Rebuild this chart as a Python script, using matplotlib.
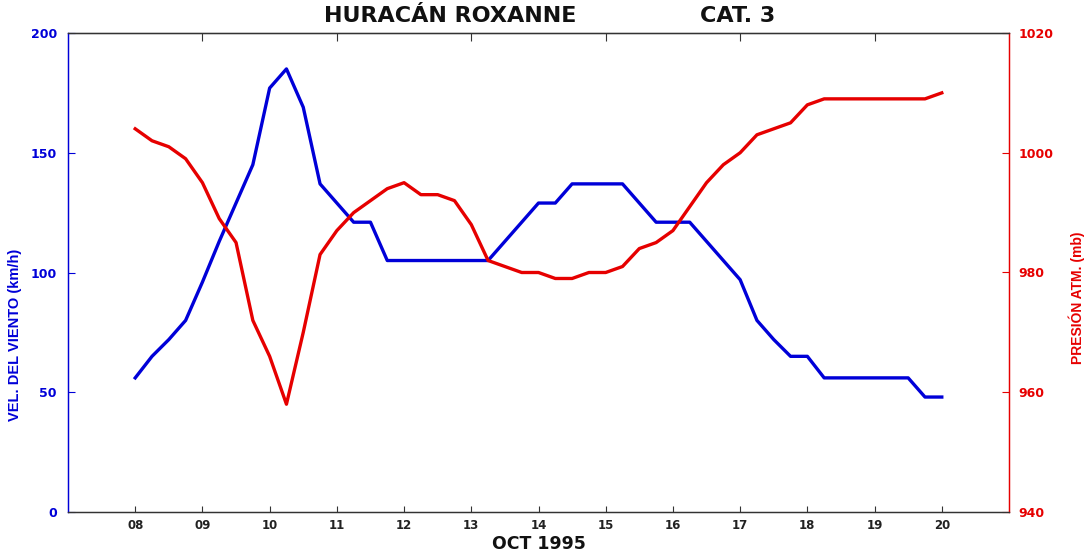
import numpy as np
import matplotlib
matplotlib.use("Agg")
import matplotlib.pyplot as plt

# 6-hourly track data, 08-20 Oct 1995
days = np.arange(8, 20.125, 0.25)
wind_kmh = [56, 65, 72, 80, 96, 113, 129, 145, 177, 185, 169, 137, 129,
            121, 121, 105, 105, 105, 105, 105, 105, 105, 113, 121, 129,
            129, 137, 137, 137, 137, 129, 121, 121, 121, 113, 105, 97,
            80, 72, 65, 65, 56, 56, 56, 56, 56, 56, 48, 48]
pressure_mb = [1004, 1002, 1001, 999, 995, 989, 985, 972, 966, 958, 970,
               983, 987, 990, 992, 994, 995, 993, 993, 992, 988, 982, 981,
               980, 980, 979, 979, 980, 980, 981, 984, 985, 987, 991, 995,
               998, 1000, 1003, 1004, 1005, 1008, 1009, 1009, 1009, 1009,
               1009, 1009, 1009, 1010]
day_ticks = list(range(8, 21))
day_labels = ["%02d" % d for d in day_ticks]

blue = "#0000d8"
red = "#e60000"
grey = "#333333"
narrow = ["Liberation Sans", "DejaVu Sans"]

fig = plt.figure(figsize=(10.86, 5.52), dpi=100)
ax = fig.add_axes([68 / 1086, 40 / 552, 941 / 1086, 479 / 552])
ax2 = ax.twinx()

ax.plot(days, wind_kmh, color=blue, lw=2.4)
ax2.plot(days, pressure_mb, color=red, lw=2.4)

ax.set_xlim(7, 21)
ax.set_ylim(0, 200)
ax2.set_ylim(940, 1020)

ax.set_xticks(day_ticks)
ax.set_xticklabels(day_labels, fontweight="bold", fontsize=8.5, color="#222222")
ax.set_yticks([0, 50, 100, 150, 200])
ax2.set_yticks([940, 960, 980, 1000, 1020])
for lab in ax.get_yticklabels():
    lab.set_fontweight("bold")
for lab in ax2.get_yticklabels():
    lab.set_fontweight("bold")

ax.tick_params(axis="x", direction="in", length=4, width=0.8, color=grey, pad=5)
ax.tick_params(axis="y", direction="in", length=5, width=0.8, color=blue,
               labelcolor=blue, labelsize=9, pad=8)
ax2.tick_params(axis="y", direction="in", length=5, width=0.8, color=red,
                labelcolor=red, labelsize=9, pad=7)

# top axis only carries ticks on odd days
top = ax.secondary_xaxis("top")
top.set_xticks([9, 11, 13, 15, 17, 19])
top.set_xticklabels([])
top.tick_params(direction="in", length=6, width=0.8, color=grey)

for a in (ax, ax2):
    a.spines["top"].set_color(grey)
    a.spines["bottom"].set_color(grey)
    a.spines["left"].set_color(blue)
    a.spines["right"].set_color(red)
    for s in a.spines.values():
        s.set_linewidth(0.9)
top.spines["top"].set_color(grey)

ax.set_xlabel("OCT 1995", fontweight="bold", fontsize=12.5, color="#111111",
              labelpad=2)
ax.set_ylabel("VEL. DEL VIENTO (km/h)", family=narrow, fontweight="bold",
              fontsize=10.5, color=blue)
ax.yaxis.set_label_coords(-0.049, 0.37)
ax2.set_ylabel("PRESIÓN ATM. (mb)", family=narrow, fontweight="bold",
               fontsize=10, color=red)
ax2.yaxis.set_label_coords(1.063, 0.447)

fig.text(450 / 1086, 1 - 16 / 552, "HURACÁN ROXANNE", ha="center", va="center",
         fontsize=16, fontweight="bold", color="#111111")
fig.text(738 / 1086, 1 - 16 / 552, "CAT. 3", ha="center", va="center",
         fontsize=16, fontweight="bold", color="#111111")

fig.savefig("out.png", dpi=100)
